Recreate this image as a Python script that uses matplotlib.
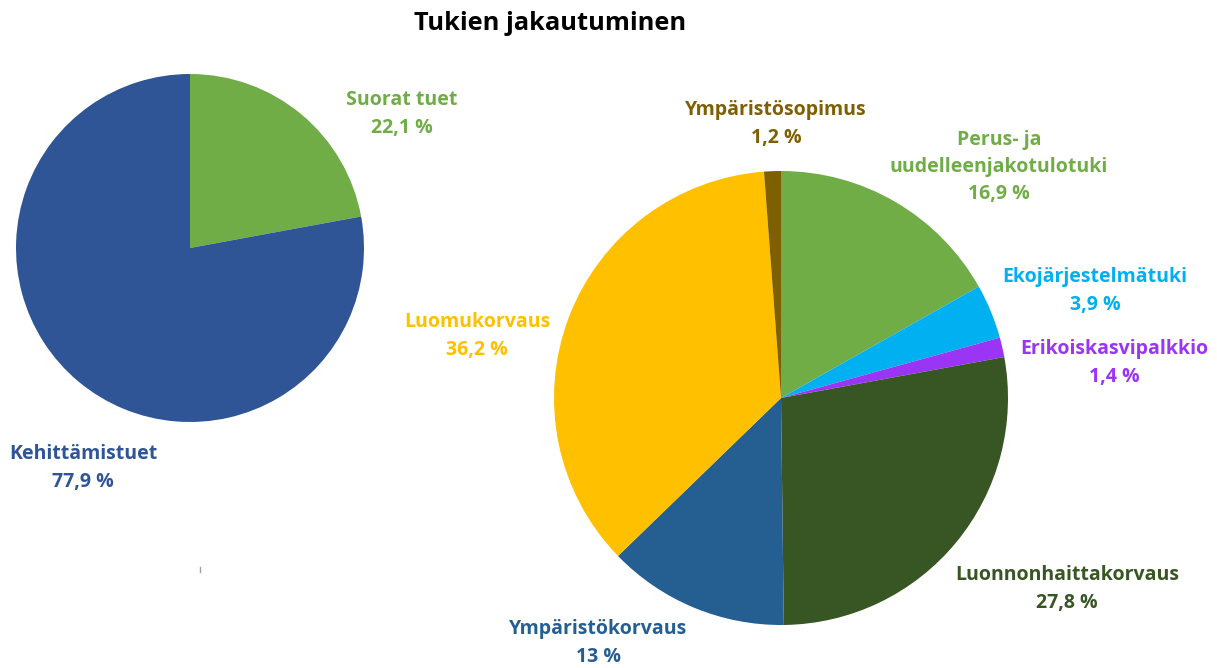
import matplotlib
matplotlib.use("Agg")
import matplotlib.pyplot as plt
from matplotlib.lines import Line2D

# ---- data ----
title = "Tukien jakautuminen"

left_labels = ["Suorat tuet", "Kehittämistuet"]
left_values = [22.1, 77.9]
left_colors = ["#70AD47", "#2F5597"]

right_labels = ["Perus- ja\nuudelleenjakotulotuki", "Ekojärjestelmätuki", "Erikoiskasvipalkkio",
                "Luonnonhaittakorvaus", "Ympäristökorvaus", "Luomukorvaus", "Ympäristösopimus"]
right_values = [16.9, 3.9, 1.4, 27.8, 13, 36.2, 1.2]
right_colors = ["#70AD47", "#00B0F0", "#9B35F5", "#375623", "#255E91", "#FFC000", "#7F6000"]

# ---- layout (pixel positions of label centres) ----
W, H = 1217, 668
left_label_pos = [(402, 114), (83, 468)]
right_label_pos = [(999, 167), (1095, 291), (1114, 363), (1067, 589), (598, 643), (477, 336), (776, 124)]

FONT = "Open Sans"
FS = 14
LS = 1.5


def fmt(v):
    if float(v).is_integer():
        return f"{int(v)} %"
    return f"{v:.1f}".replace(".", ",") + " %"


def fx(x):
    return x / W


def fy(y):
    return 1 - y / H


fig = plt.figure(figsize=(W / 100, H / 100), dpi=100)
fig.patch.set_facecolor("white")


def pie_axes(cx, cy, r):
    ax = fig.add_axes([fx(cx - r), fy(cy + r), 2 * r / W, 2 * r / H])
    ax.set_xlim(-1, 1)
    ax.set_ylim(-1, 1)
    ax.axis("off")
    return ax


ax1 = pie_axes(190, 248, 174)
ax1.pie(left_values, colors=left_colors, startangle=90, counterclock=False,
        radius=1, center=(0, 0), wedgeprops=dict(linewidth=0), frame=False)
ax1.set_xlim(-1, 1)
ax1.set_ylim(-1, 1)

ax2 = pie_axes(781, 398, 227)
ax2.pie(right_values, colors=right_colors, startangle=90, counterclock=False,
        radius=1, center=(0, 0), wedgeprops=dict(linewidth=0), frame=False)
ax2.set_xlim(-1, 1)
ax2.set_ylim(-1, 1)

for lab, v, c, (x, y) in zip(left_labels, left_values, left_colors, left_label_pos):
    fig.text(fx(x), fy(y), lab + "\n" + fmt(v), color=c, ha="center", va="center",
             fontsize=FS, fontweight="bold", family=FONT, linespacing=LS)

for lab, v, c, (x, y) in zip(right_labels, right_values, right_colors, right_label_pos):
    fig.text(fx(x), fy(y), lab + "\n" + fmt(v), color=c, ha="center", va="center",
             fontsize=FS, fontweight="bold", family=FONT, linespacing=LS)

fig.text(fx(550), fy(23), title, ha="center", va="center", fontsize=18.3,
         fontweight="bold", family=FONT, color="black")

# small stray grey tick seen in the original image
fig.add_artist(Line2D([fx(200), fx(200)], [fy(567), fy(572)], color="#A0A0A0", lw=1))

fig.savefig("out.png", dpi=100, facecolor="white")
